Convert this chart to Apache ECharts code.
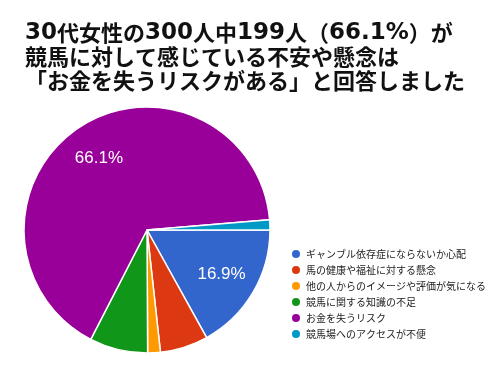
<!DOCTYPE html>
<html><head><meta charset="utf-8">
<script src="https://cdn.jsdelivr.net/npm/echarts@6/dist/echarts.min.js"></script>
<style>html,body{margin:0;padding:0;background:#fff}#c{width:500px;height:375px}</style>
</head><body><div id="c"></div>
<script>
const titleLines = ['30代女性の300人中199人（66.1%）が', '競馬に対して感じている不安や懸念は', '「お金を失うリスクがある」と回答しました'];
const categories = ['ギャンブル依存症にならないか心配', '馬の健康や福祉に対する懸念', '他の人からのイメージや評価が気になる', '競馬に関する知識の不足', 'お金を失うリスク', '競馬場へのアクセスが不便'];
const counts = [51, 19, 5, 23, 199, 4];
const colors = ['#3366cc', '#dc3912', '#ff9900', '#109618', '#990099', '#0099c6'];

const total = counts.reduce((a, b) => a + b, 0);
const data = categories.map((n, i) => ({ name: n, value: counts[i], itemStyle: { color: colors[i] } }));
const labelData = categories.map((n, i) => ({
  name: n, value: counts[i],
  label: { show: counts[i] / total > 0.1 }
}));

// wrap ASCII runs (digits, %, .) in a rich style, CJK in another
function richLine(s) {
  return s.split(/([0-9.%]+)/).filter(t => t.length).map(t =>
    /^[0-9.%]+$/.test(t) ? '{d|' + t + '}' : '{j|' + t + '}'
  ).join('');
}
const titleText = titleLines.map(richLine).join('\n');

const chart = echarts.init(document.getElementById('c'));
chart.setOption({
  animation: false,
  title: {
    text: titleText, left: 20, top: 16,
    textStyle: {
      fontFamily: 'Noto Sans CJK JP', fontWeight: 'bold', fontSize: 22, lineHeight: 24, color: '#111',
      rich: {
        j: { fontFamily: 'Noto Sans CJK JP', fontWeight: 'bold', fontSize: 22, lineHeight: 24, color: '#111' },
        d: { fontFamily: 'DejaVu Sans', fontWeight: 'bold', fontSize: 23, lineHeight: 24, color: '#111' }
      }
    }
  },
  legend: {
    data: categories, orient: 'vertical', left: 285, top: 243,
    icon: 'circle', itemWidth: 10, itemHeight: 10, itemGap: 4,
    textStyle: { fontFamily: 'Noto Sans CJK JP', fontSize: 10, color: '#222' }
  },
  series: [{
    type: 'pie', center: [147, 230], radius: [0, 123], startAngle: 0, clockwise: true,
    label: { show: false }, labelLine: { show: false }, silent: true,
    itemStyle: { borderColor: '#fff', borderWidth: 1.5 },
    data: data
  }, {
    type: 'pie', center: [147, 230], radius: [44, 123], startAngle: 0, clockwise: true,
    silent: true, itemStyle: { color: 'rgba(0,0,0,0)' },
    label: { position: 'inside', color: '#fff', fontSize: 17, fontFamily: 'Liberation Sans, Arial',
      formatter: p => (p.value / total * 100).toFixed(1) + '%' },
    labelLine: { show: false },
    data: labelData
  }]
});
</script></body></html>
